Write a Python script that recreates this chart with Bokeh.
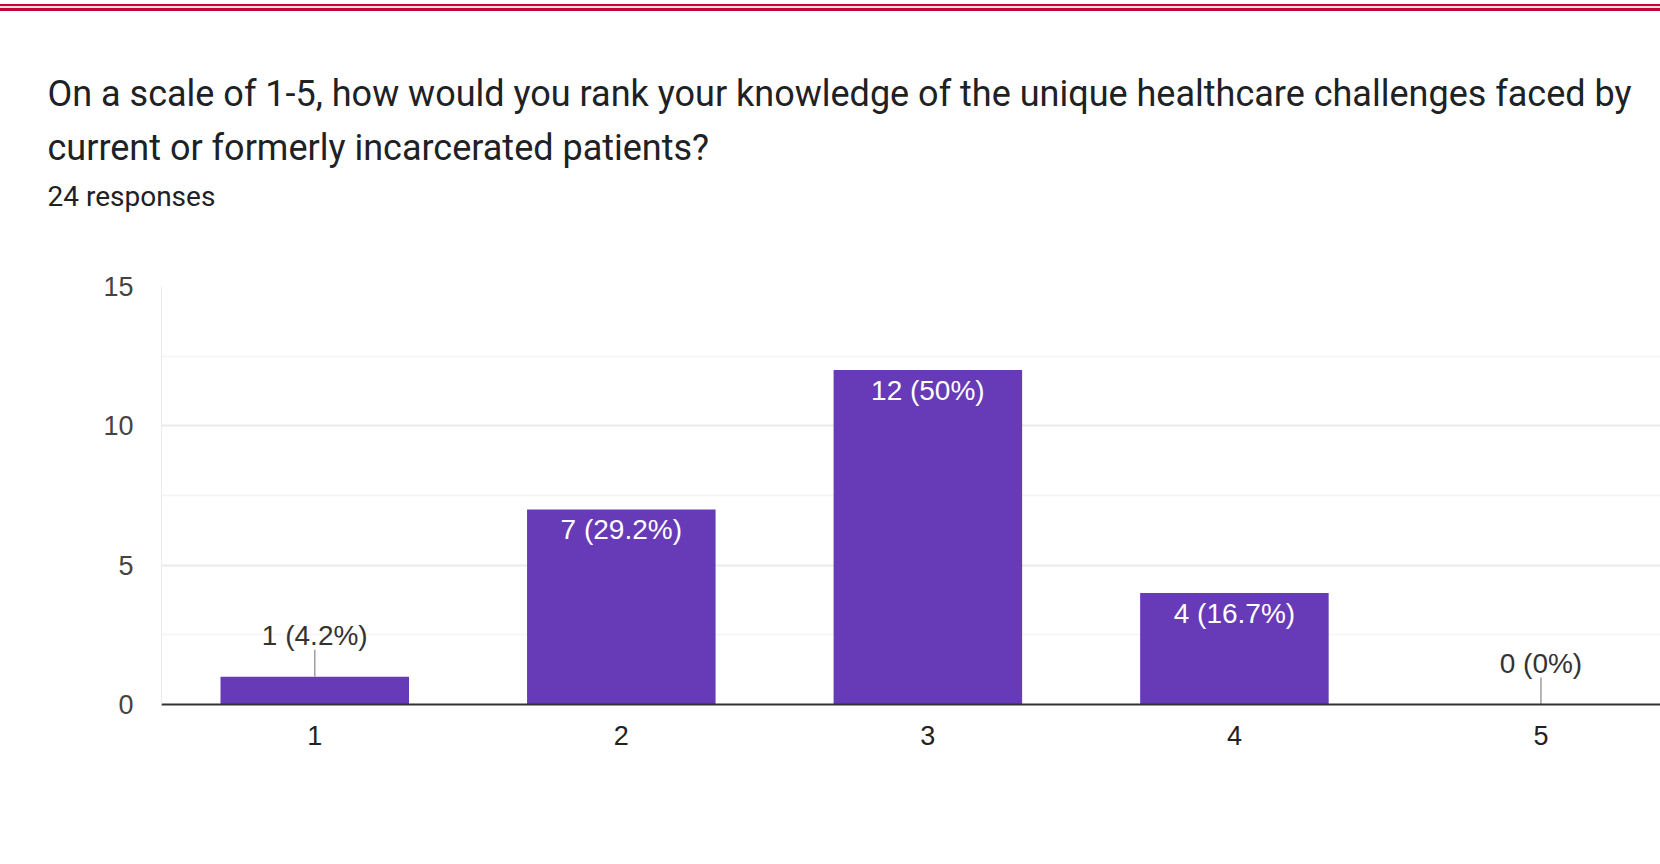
from bokeh.plotting import figure
from bokeh.models import (Range1d, FixedTicker, ColumnDataSource, Title, Div)
from bokeh.layouts import column
from bokeh.core.properties import value
from bokeh.embed import file_html
from bokeh.resources import INLINE
import math

# ---- data ----
categories = [1, 2, 3, 4, 5]
counts = [1, 7, 12, 4, 0]
percents = ["4.2%", "29.2%", "50%", "16.7%", "0%"]
y_ticks = [0, 5, 10, 15]
y_minor = [2.5, 7.5, 12.5]
title_lines = [
    "On a scale of 1-5, how would you rank your knowledge of the unique healthcare challenges faced by",
    "current or formerly incarcerated patients?",
]
subtitle = "24 responses"

W, H = 1660, 864
RULE_H = 12
PH = H - RULE_H
FL = 161

# red double rule at the very top
rule = Div(width=W, height=RULE_H, margin=0, text="",
           styles={"background": "linear-gradient(to bottom, #ffffff 0px, #ffffff 4.5px, #c4073a 4.5px, "
                                 "#c4073a 6.5px, #f3dfe4 6.5px, #f3dfe4 8px, #c4073a 8px, #c4073a 10.8px, "
                                 "#ffffff 10.8px, #ffffff 12px)"})

p = figure(width=W, height=PH, x_range=Range1d(0.5, 5.39), y_range=Range1d(0, 15),
           output_backend="svg", toolbar_location=None,
           min_border_left=FL, min_border_right=0, min_border_top=274, min_border_bottom=160)
p.outline_line_color = None

# titles stacked above the frame (first added = closest to the frame)
p.add_layout(Title(text=" ", text_font_size="1px", standoff=66, offset=-114, align="left"), "above")
p.add_layout(Title(text=subtitle, text_font="Roboto", text_font_size="28px", text_font_style="normal",
                   text_color="#202124", standoff=10, offset=-114, align="left"), "above")
p.add_layout(Title(text=title_lines[1], text_font="Roboto", text_font_size="36px", text_font_style="normal",
                   text_color="#202124", standoff=8, offset=-114, align="left"), "above")
p.add_layout(Title(text=title_lines[0], text_font="Roboto", text_font_size="36px", text_font_style="normal",
                   text_color="#202124", standoff=12, offset=-114, align="left"), "above")

src = ColumnDataSource(dict(x=categories, top=counts))
p.vbar(x="x", top="top", bottom=0, width=0.615, source=src, fill_color="#673ab7", line_color=None)

inside = [i for i, c in enumerate(counts) if c >= 2]
outside = [i for i, c in enumerate(counts) if c < 2]

p.text(x=[categories[i] for i in inside], y=[counts[i] for i in inside],
       text=[f"{counts[i]} ({percents[i]})" for i in inside],
       text_font=value("Liberation Sans"), text_font_size="28px", text_color="#ffffff",
       text_align="center", text_baseline="middle", y_offset=20)
p.ray(x=[categories[i] for i in outside], y=[counts[i] for i in outside],
      length=27, length_units="screen", angle=math.pi / 2,
      line_color="#9e9e9e", line_width=1.5)
p.text(x=[categories[i] for i in outside], y=[counts[i] for i in outside],
       text=[f"{counts[i]} ({percents[i]})" for i in outside],
       text_font=value("Liberation Sans"), text_font_size="28px", text_color="#333333",
       text_align="center", text_baseline="middle", y_offset=-41)

# axes
p.yaxis.ticker = FixedTicker(ticks=y_ticks, minor_ticks=y_minor)
p.xaxis.ticker = FixedTicker(ticks=categories)
p.yaxis.axis_line_color = "#ebebeb"
p.yaxis.major_tick_line_color = None
p.yaxis.minor_tick_line_color = None
p.yaxis.major_label_standoff = 22
p.yaxis.major_label_text_font = "Liberation Sans"
p.yaxis.major_label_text_font_size = "27px"
p.yaxis.major_label_text_color = "#444444"

p.xaxis.axis_line_color = "#333333"
p.xaxis.axis_line_width = 2
p.xaxis.major_tick_line_color = None
p.xaxis.minor_tick_line_color = None
p.xaxis.major_label_standoff = 15
p.xaxis.major_label_text_font = "Liberation Sans"
p.xaxis.major_label_text_font_size = "27px"
p.xaxis.major_label_text_color = "#222222"

p.xgrid.grid_line_color = None
p.ygrid.grid_line_color = "#ebebeb"
p.ygrid.grid_line_width = 2
p.ygrid.minor_grid_line_color = "#f4f4f4"
p.ygrid.minor_grid_line_width = 1.5

layout = column(rule, p, spacing=0)
open("out.html", "w").write(file_html(layout, INLINE))
